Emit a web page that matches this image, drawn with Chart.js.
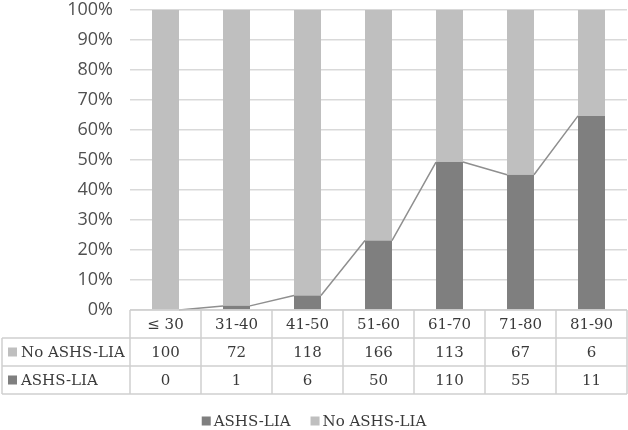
<!DOCTYPE html>
<html>
<head>
<meta charset="utf-8">
<script src="https://cdn.jsdelivr.net/npm/chart.js@4"></script>
<style>
  html, body { margin: 0; padding: 0; background: #fff; }
  #wrap { width: 628px; height: 430px; }
</style>
</head>
<body>
<div id="wrap"><canvas id="chart" width="628" height="430"></canvas></div>
<script>
// datos
const categories = ['≤ 30', '31-40', '41-50', '51-60', '61-70', '71-80', '81-90'];
const noAshs = [100, 72, 118, 166, 113, 67, 6];
const ashs = [0, 1, 6, 50, 110, 55, 11];
const yTicks = [0, 10, 20, 30, 40, 50, 60, 70, 80, 90, 100];

const darkGray = '#7f7f7f';
const lightGray = '#bfbfbf';
const textColor = '#3a3a3a';
const tableFont = '15px "DejaVu Serif", serif';

// porcentaje de cada grupo (100% apilado)
const pct = (a, b) => a.map((v, i) => 100 * v / (a[i] + b[i]));

// líneas de serie entre barras (como en Excel)
const seriesLines = {
    id: 'seriesLines',
    afterDatasetsDraw(chart) {
        const ctx = chart.ctx;
        const bars = chart.getDatasetMeta(0).data;
        ctx.save();
        ctx.strokeStyle = '#8f8f8f';
        ctx.lineWidth = 1.5;
        ctx.beginPath();
        for (let i = 0; i < bars.length - 1; i++) {
            const a = bars[i], b = bars[i + 1];
            ctx.moveTo(a.x + a.width / 2, a.y);
            ctx.lineTo(b.x - b.width / 2, b.y);
        }
        ctx.stroke();
        ctx.restore();
    }
};

// tabla de datos y leyenda debajo del gráfico
const dataTable = {
    id: 'dataTable',
    afterDraw(chart) {
        const ctx = chart.ctx;
        const x = chart.scales.x;
        const area = chart.chartArea;
        const rowH = 28;
        const top = area.bottom;
        const left = 2;
        const n = categories.length;
        const colW = (area.right - area.left) / n;

        ctx.save();
        ctx.strokeStyle = '#d0d0d0';
        ctx.lineWidth = 1.5;
        ctx.beginPath();
        // horizontales
        ctx.moveTo(area.left, top); ctx.lineTo(area.right, top);
        for (let r = 1; r <= 3; r++) {
            ctx.moveTo(left, top + r * rowH); ctx.lineTo(area.right, top + r * rowH);
        }
        // verticales
        ctx.moveTo(left, top + rowH); ctx.lineTo(left, top + 3 * rowH);
        for (let c = 0; c <= n; c++) {
            const xx = area.left + c * colW;
            ctx.moveTo(xx, top); ctx.lineTo(xx, top + 3 * rowH);
        }
        ctx.stroke();

        ctx.font = tableFont;
        ctx.fillStyle = textColor;
        ctx.textAlign = 'center';
        ctx.textBaseline = 'middle';
        const rows = [categories, noAshs, ashs];
        rows.forEach((row, r) => {
            row.forEach((v, i) => {
                ctx.fillText(String(v), x.getPixelForValue(i), top + r * rowH + rowH / 2 + 1);
            });
        });

        // etiquetas de fila
        ctx.textAlign = 'left';
        const labels = [['No ASHS-LIA', lightGray], ['ASHS-LIA', darkGray]];
        labels.forEach(([t, col], r) => {
            const cy = top + (r + 1) * rowH + rowH / 2;
            ctx.fillStyle = col;
            ctx.fillRect(8, cy - 4.5, 9, 9);
            ctx.fillStyle = textColor;
            ctx.fillText(t, 21, cy + 1);
        });

        // leyenda
        const items = [['ASHS-LIA', darkGray], ['No ASHS-LIA', lightGray]];
        const gap = 20, box = 9, pad = 3;
        const widths = items.map(([t]) => box + pad + ctx.measureText(t).width);
        const total = widths.reduce((a, b) => a + b, 0) + gap;
        let lx = (chart.width - total) / 2;
        const ly = 421;
        items.forEach(([t, col], i) => {
            ctx.fillStyle = col;
            ctx.fillRect(lx, ly - 4.5, box, box);
            ctx.fillStyle = textColor;
            ctx.fillText(t, lx + box + pad, ly + 1);
            lx += widths[i] + gap;
        });
        ctx.restore();
    }
};

new Chart(document.getElementById('chart'), {
    type: 'bar',
    data: {
        labels: categories,
        datasets: [{
            label: 'ASHS-LIA',
            data: pct(ashs, noAshs),
            backgroundColor: darkGray,
            categoryPercentage: 1,
            barPercentage: 0.38
        }, {
            label: 'No ASHS-LIA',
            data: pct(noAshs, ashs),
            backgroundColor: lightGray,
            categoryPercentage: 1,
            barPercentage: 0.38
        }]
    },
    options: {
        responsive: false,
        animation: false,
        layout: { padding: { top: 0, bottom: 120, right: 1, left: 0 } },
        scales: {
            x: { stacked: true, display: false },
            y: {
                stacked: true,
                min: 0,
                max: 100,
                afterFit: (s) => { s.width = 130; s.paddingTop = 10; s.paddingBottom = 0; },
                afterBuildTicks: (s) => { s.ticks = yTicks.map(v => ({ value: v })); },
                grid: { color: '#d9d9d9', lineWidth: 1.5, drawTicks: false },
                border: { display: false },
                ticks: {
                    padding: 17,
                    color: '#505050',
                    font: { family: '"Open Sans", sans-serif', size: 18 },
                    callback: (v) => v + '%'
                }
            }
        },
        plugins: {
            legend: { display: false },
            tooltip: { enabled: false }
        }
    },
    plugins: [seriesLines, dataTable]
});
</script>
</body>
</html>
